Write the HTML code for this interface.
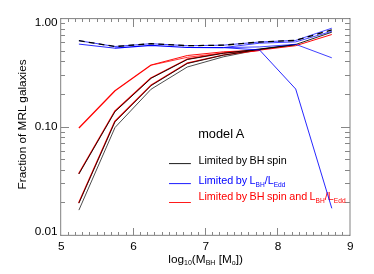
<!DOCTYPE html>
<html><head><meta charset="utf-8"><style>
html,body{margin:0;padding:0;background:#fff;}
svg{display:block;will-change:transform;font-family:"Liberation Sans",sans-serif;}
</style></head><body>
<svg width="374" height="274" viewBox="0 0 374 274">
<rect width="374" height="274" fill="#fff"/>
<g stroke="#000" stroke-width="0.5" fill="none">
<path d="M60.7 18.35V235.6M350 18.35V235.6M60.45 18.6H350.25M60.45 235.35H350.25"/>
</g>
<g stroke="#868686" stroke-width="1" fill="none" shape-rendering="crispEdges">
<path d="M68.5 235v-3.2M68.5 19v3.2"/>
<path d="M75.5 235v-3.2M75.5 19v3.2"/>
<path d="M82.5 235v-3.2M82.5 19v3.2"/>
<path d="M89.5 235v-3.2M89.5 19v3.2"/>
<path d="M97.5 235v-3.2M97.5 19v3.2"/>
<path d="M104.5 235v-3.2M104.5 19v3.2"/>
<path d="M111.5 235v-3.2M111.5 19v3.2"/>
<path d="M118.5 235v-3.2M118.5 19v3.2"/>
<path d="M126.5 235v-3.2M126.5 19v3.2"/>
<path d="M133.5 235v-7.5M133.5 19v7.5"/>
<path d="M140.5 235v-3.2M140.5 19v3.2"/>
<path d="M147.5 235v-3.2M147.5 19v3.2"/>
<path d="M154.5 235v-3.2M154.5 19v3.2"/>
<path d="M162.5 235v-3.2M162.5 19v3.2"/>
<path d="M169.5 235v-3.2M169.5 19v3.2"/>
<path d="M176.5 235v-3.2M176.5 19v3.2"/>
<path d="M183.5 235v-3.2M183.5 19v3.2"/>
<path d="M191.5 235v-3.2M191.5 19v3.2"/>
<path d="M198.5 235v-3.2M198.5 19v3.2"/>
<path d="M205.5 235v-7.5M205.5 19v7.5"/>
<path d="M212.5 235v-3.2M212.5 19v3.2"/>
<path d="M219.5 235v-3.2M219.5 19v3.2"/>
<path d="M227.5 235v-3.2M227.5 19v3.2"/>
<path d="M234.5 235v-3.2M234.5 19v3.2"/>
<path d="M241.5 235v-3.2M241.5 19v3.2"/>
<path d="M248.5 235v-3.2M248.5 19v3.2"/>
<path d="M256.5 235v-3.2M256.5 19v3.2"/>
<path d="M263.5 235v-3.2M263.5 19v3.2"/>
<path d="M270.5 235v-3.2M270.5 19v3.2"/>
<path d="M277.5 235v-7.5M277.5 19v7.5"/>
<path d="M284.5 235v-3.2M284.5 19v3.2"/>
<path d="M292.5 235v-3.2M292.5 19v3.2"/>
<path d="M299.5 235v-3.2M299.5 19v3.2"/>
<path d="M306.5 235v-3.2M306.5 19v3.2"/>
<path d="M313.5 235v-3.2M313.5 19v3.2"/>
<path d="M321.5 235v-3.2M321.5 19v3.2"/>
<path d="M328.5 235v-3.2M328.5 19v3.2"/>
<path d="M335.5 235v-3.2M335.5 19v3.2"/>
<path d="M342.5 235v-3.2M342.5 19v3.2"/>
<path d="M61 127.5h8.4M349.6 127.5h-8.4"/>
<path d="M61 94.5h4.4M349.6 94.5h-4.4"/>
<path d="M61 75.5h4.4M349.6 75.5h-4.4"/>
<path d="M61 61.5h4.4M349.6 61.5h-4.4"/>
<path d="M61 51.5h4.4M349.6 51.5h-4.4"/>
<path d="M61 42.5h4.4M349.6 42.5h-4.4"/>
<path d="M61 35.5h4.4M349.6 35.5h-4.4"/>
<path d="M61 29.5h4.4M349.6 29.5h-4.4"/>
<path d="M61 23.5h4.4M349.6 23.5h-4.4"/>
<path d="M61 202.5h4.4M349.6 202.5h-4.4"/>
<path d="M61 183.5h4.4M349.6 183.5h-4.4"/>
<path d="M61 170.5h4.4M349.6 170.5h-4.4"/>
<path d="M61 159.5h4.4M349.6 159.5h-4.4"/>
<path d="M61 151.5h4.4M349.6 151.5h-4.4"/>
<path d="M61 143.5h4.4M349.6 143.5h-4.4"/>
<path d="M61 137.5h4.4M349.6 137.5h-4.4"/>
<path d="M61 132.5h4.4M349.6 132.5h-4.4"/>
</g>
<path d="M169 163.6H190.9" stroke="#000" stroke-width="0.9"/>
<path d="M169 183.6H190.9" stroke="#0000ff" stroke-width="0.9"/>
<path d="M169 202.5H190.9" stroke="#ff0000" stroke-width="0.9"/>
<text transform="translate(198.2 137.8) scale(1.015 1)" font-size="12.6" fill="#000">model A</text>
<text transform="translate(198.4 164) scale(1.02 1)" word-spacing="-0.55" font-size="10.6" fill="#000">Limited by BH spin</text>
<text transform="translate(198.4 183.9) scale(1.02 1)" word-spacing="-0.55" font-size="10.6" fill="#0000ff">Limited by L<tspan font-size="6.5" dy="2.7">BH</tspan><tspan dy="-2.7">/L</tspan><tspan font-size="6.5" dy="2.7">Edd</tspan></text>
<text transform="translate(198.4 200.0) scale(1.02 1)" word-spacing="-0.55" font-size="10.6" fill="#ff0000">Limited by BH spin and L<tspan font-size="6.5" dy="2.7">BH</tspan><tspan dy="-2.7">/L</tspan><tspan font-size="6.5" dy="2.7">Edd</tspan></text>
<polyline points="78.9,210.1 115.0,127.5 151.1,89.2 187.3,67.0 223.4,56.8 259.6,49.6 295.7,44.7" fill="none" stroke="#000" stroke-width="0.7" stroke-linejoin="round" />
<polyline points="78.6,173.8 114.7,111.3 150.8,78.0 187.0,59.2 223.1,53.0 259.3,50.1" fill="none" stroke="#ff0000" stroke-width="1.2" stroke-linejoin="round" />
<polyline points="78.6,202.9 114.7,121.5 150.8,85.3 187.0,63.2 223.1,55.0 259.3,50.4" fill="none" stroke="#ff0000" stroke-width="1.2" stroke-linejoin="round" />
<polyline points="78.9,128.0 115.0,90.7 151.1,65.0" fill="none" stroke="#ff0000" stroke-width="1.3" stroke-linejoin="round" />
<polyline points="151.1,65.0 187.3,55.5 223.4,51.8 259.6,50.1 295.7,45.7 331.8,34.5" fill="none" stroke="#ff0000" stroke-width="0.95" stroke-linejoin="round" />
<polyline points="151.1,65.2 187.3,57.3 223.4,53.0 259.6,50.5" fill="none" stroke="#ff0000" stroke-width="0.8" stroke-linejoin="round" />
<polyline points="78.9,174.0 115.0,111.6 151.1,78.3 187.3,59.5 223.4,53.3 259.6,49.0 295.7,44.5 331.8,32.2" fill="none" stroke="#000" stroke-width="0.85" stroke-linejoin="round" />
<polyline points="78.9,203.2 115.0,121.8 151.1,85.6 187.3,63.5 223.4,55.2 259.6,49.3 295.7,44.6" fill="none" stroke="#000" stroke-width="0.8" stroke-linejoin="round" />
<polyline points="78.9,40.7 115.0,46.5 151.1,43.7 187.3,45.7 223.4,45.2 259.6,42.0 295.7,40.4 331.8,28.2" fill="none" stroke="#0000ff" stroke-width="0.75" stroke-linejoin="round" />
<polyline points="78.9,44.1 115.0,48.2" fill="none" stroke="#0000ff" stroke-width="0.85" stroke-linejoin="round" />
<polyline points="115.0,48.2 151.1,45.3 187.3,47.5 223.4,47.6" fill="none" stroke="#0000ff" stroke-width="1.2" stroke-linejoin="round" />
<polyline points="223.4,47.6 259.6,43.2 295.7,41.9 331.8,31.3" fill="none" stroke="#0000ff" stroke-width="0.75" stroke-linejoin="round" />
<polyline points="223.4,47.6 259.6,46.9 295.7,44.3 331.8,57.8" fill="none" stroke="#0000ff" stroke-width="0.75" stroke-linejoin="round" />
<polyline points="223.4,47.6 259.6,50.0 295.7,89.0 331.8,208.3" fill="none" stroke="#0000ff" stroke-width="0.85" stroke-linejoin="round" />
<polyline points="78.9,40.7 115.0,46.5 151.1,43.7 187.3,45.7 223.4,45.2 259.6,42.0 295.7,40.4 331.8,29.8" fill="none" stroke="#000" stroke-width="1.3" stroke-linejoin="round" stroke-dasharray="5.8 4.2"/>
<text x="57.6" y="25.7" font-size="11.8" text-anchor="end" fill="#000">1.00</text>
<text x="57.6" y="130.2" font-size="11.8" text-anchor="end" fill="#000">0.10</text>
<text x="57.6" y="235.4" font-size="11.8" text-anchor="end" fill="#000">0.01</text>
<text x="61.2" y="249.8" font-size="11.8" text-anchor="middle" fill="#000">5</text>
<text x="133.5" y="249.8" font-size="11.8" text-anchor="middle" fill="#000">6</text>
<text x="205.7" y="249.8" font-size="11.8" text-anchor="middle" fill="#000">7</text>
<text x="278.0" y="249.8" font-size="11.8" text-anchor="middle" fill="#000">8</text>
<text x="350.3" y="249.8" font-size="11.8" text-anchor="middle" fill="#000">9</text>
<text x="205.6" y="262.5" font-size="11.8" text-anchor="middle" fill="#000">log<tspan font-size="7.0" dy="2.3">10</tspan><tspan dy="-2.3">(M</tspan><tspan font-size="7.0" dy="2.3">BH</tspan><tspan dy="-2.3"> [M</tspan><tspan font-size="7.0" dy="2.3">o</tspan><tspan dy="-2.3">])</tspan></text>
<text transform="translate(26 189.4) rotate(-90)" font-size="11.8" fill="#000">Fraction of MRL galaxies</text>
</svg></body></html>
